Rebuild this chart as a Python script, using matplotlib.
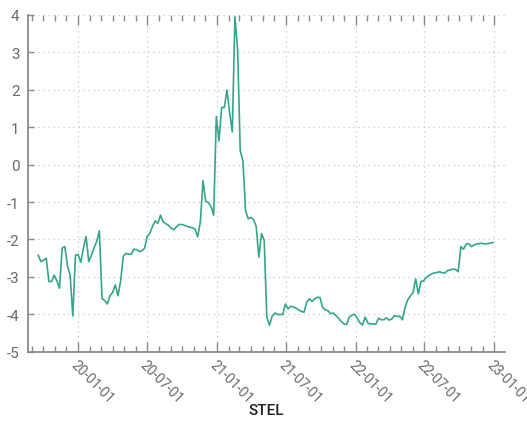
import matplotlib
matplotlib.use("Agg")
import matplotlib.pyplot as plt
import matplotlib.dates as mdates
import pandas as pd
import numpy as np

start_date = "2019-09-18"
title_label = "STEL"
values = [
    -2.42, -2.59, -2.55, -2.50, -3.12, -3.12, -2.95, -3.10, -3.30, -2.23,
    -2.19, -2.70, -2.96, -4.04, -2.42, -2.40, -2.61, -2.23, -1.92, -2.59,
    -2.42, -2.22, -2.05, -1.77, -3.57, -3.63, -3.72, -3.50, -3.41, -3.21,
    -3.50, -3.10, -2.45, -2.37, -2.39, -2.39, -2.26, -2.27, -2.32, -2.30,
    -2.23, -1.92, -1.83, -1.65, -1.50, -1.57, -1.35, -1.53, -1.58, -1.62,
    -1.70, -1.74, -1.66, -1.60, -1.60, -1.62, -1.65, -1.67, -1.69, -1.72,
    -1.93, -1.52, -0.43, -0.98, -1.02, -1.12, -1.35, 1.28, 0.63, 1.52,
    1.52, 1.99, 1.38, 0.87, 3.94, 3.07, 0.36, 0.10, -1.23, -1.45,
    -1.41, -1.47, -1.65, -2.47, -1.84, -2.02, -4.07, -4.29, -4.04, -3.96,
    -4.00, -4.00, -4.00, -3.72, -3.85, -3.78, -3.80, -3.83, -3.88, -3.92,
    -3.94, -3.67, -3.58, -3.65, -3.58, -3.54, -3.55, -3.81, -3.88, -3.90,
    -3.98, -3.96, -4.03, -4.10, -4.19, -4.25, -4.27, -4.07, -4.02, -3.99,
    -4.10, -4.22, -4.28, -4.07, -4.23, -4.25, -4.25, -4.26, -4.10, -4.14,
    -4.14, -4.09, -4.15, -4.12, -4.03, -4.05, -4.05, -4.14, -3.81, -3.61,
    -3.51, -3.41, -3.05, -3.45, -3.12, -3.10, -3.01, -2.96, -2.92, -2.89,
    -2.88, -2.86, -2.89, -2.89, -2.83, -2.81, -2.79, -2.80, -2.86, -2.19,
    -2.26, -2.12, -2.11, -2.19, -2.14, -2.12, -2.11, -2.10, -2.12, -2.11,
    -2.10, -2.08,
]
dates = pd.date_range(start_date, periods=len(values), freq="7D")
y_ticks = [-5, -4, -3, -2, -1, 0, 1, 2, 3, 4]

plt.rcParams["font.family"] = ["Roboto", "DejaVu Sans"]
plt.rcParams["axes.unicode_minus"] = False

fig = plt.figure(figsize=(5.27, 4.31), dpi=100)
ax = fig.add_axes([0.0531, 0.181, 0.905, 0.783])

ax.plot(dates, values, color="#33a68c", linewidth=1.2)

ax.set_xlim(pd.Timestamp("2019-08-22"), pd.Timestamp("2023-01-29"))
ax.set_ylim(-5, 4)
ax.set_yticks(y_ticks)

ax.xaxis.set_major_locator(mdates.MonthLocator(bymonth=[1, 7]))
ax.xaxis.set_minor_locator(mdates.MonthLocator())
ax.xaxis.set_major_formatter(mdates.DateFormatter("%y-%m-%d"))

for s in ["top", "right"]:
    ax.spines[s].set_visible(False)
for s in ["left", "bottom"]:
    ax.spines[s].set_color("#8a8a8a")
    ax.spines[s].set_linewidth(1.3)

ax.grid(True, which="major", linestyle=(0, (1, 3)), color="#c8c8c8", linewidth=0.9)

ax.tick_params(axis="x", which="both", direction="in", top=True, colors="#8a8a8a",
               labelcolor="#6a6a6a", labelsize=10)
ax.tick_params(axis="x", which="major", length=7, width=1)
ax.tick_params(axis="x", which="minor", length=4, width=1)
ax.tick_params(axis="y", which="major", direction="in", length=4, width=1,
               colors="#8a8a8a", labelcolor="#6a6a6a", labelsize=11, pad=6)

for lbl in ax.get_xticklabels():
    lbl.set_rotation(-45)
    lbl.set_ha("left")
    lbl.set_va("top")
    lbl.set_rotation_mode("anchor")

ax.set_xlabel(title_label, fontsize=11, color="#222222", fontweight="medium")
ax.xaxis.set_label_coords(0.5, -0.15)

fig.savefig("out.png", dpi=100)
